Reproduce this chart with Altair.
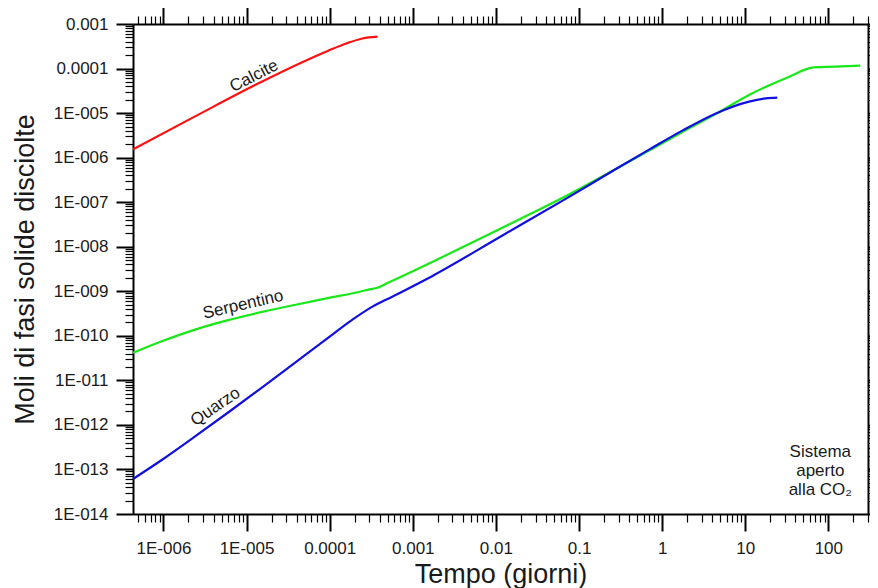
import altair as alt
import pandas as pd

# ---- data (tempo in giorni, moli) ----
series_names = ["Calcite", "Serpentino", "Quarzo"]
series_colors = ["#ff1010", "#18e818", "#1010e0"]

calcite_t = [4.3e-7, 2.40e-6, 1.50e-5, 9.46e-5, 1.64e-4, 2.48e-4, 3.76e-4]
calcite_y = [1.53e-6, 8.43e-6, 5.01e-5, 2.48e-4, 3.75e-4, 4.73e-4, 5.19e-4]

serp_t = [4.3e-7, 9.54e-7, 2.40e-6, 6.00e-6, 1.50e-5, 3.77e-5, 9.46e-5, 2.37e-4, 3.01e-4,
          3.76e-4, 4.96e-4, 1.79e-3, 1.13e-2, 7.08e-2, 0.281, 0.705, 1.77, 4.44, 11.1,
          33.4, 66.7, 121, 242]
serp_y = [4.14e-11, 7.53e-11, 1.38e-10, 2.25e-10, 3.40e-10, 4.93e-10, 7.00e-10, 9.91e-10,
          1.10e-9, 1.20e-9, 1.53e-9, 4.73e-9, 2.53e-8, 1.39e-7, 5.61e-7, 1.46e-6, 3.79e-6,
          9.59e-6, 2.56e-5, 6.49e-5, 1.06e-4, 1.10e-4, 1.16e-4]

quarz_t = [4.3e-7, 9.54e-7, 2.40e-6, 6.00e-6, 1.50e-5, 3.77e-5, 9.46e-5, 1.88e-4, 3.27e-4,
           5.67e-4, 1.79e-3, 1.13e-2, 7.08e-2, 0.281, 0.705, 1.77, 4.44, 11.1, 17.6, 24.3]
quarz_y = [6.12e-14, 1.63e-13, 5.50e-13, 1.90e-12, 6.71e-12, 2.44e-11, 8.87e-11, 2.31e-10,
           4.52e-10, 7.57e-10, 2.30e-9, 1.68e-8, 1.22e-7, 5.61e-7, 1.53e-6, 4.09e-6, 9.84e-6,
           1.81e-5, 2.14e-5, 2.23e-5]

# curve labels (text, t, y, angle)
label_text = ["Calcite", "Serpentino", "Quarzo"]
label_t = [1.23e-5, 9.08e-6, 4.23e-6]
label_y = [6.8e-5, 5.0e-10, 2.55e-12]
label_angle = [333, 347, 326]

note_text = "Sistema\naperto\nalla CO₂"
note_t = [80.0]
note_y = [1.86e-13]

# axes
x_domain = [4.3e-7, 300]
y_domain = [1e-14, 1e-3]
x_major_exp = [-6, -5, -4, -3, -2, -1, 0, 1, 2]
x_major_lab = ["1E-006", "1E-005", "0.0001", "0.001", "0.01", "0.1", "1", "10", "100"]
y_major_exp = [-3, -4, -5, -6, -7, -8, -9, -10, -11, -12, -13, -14]
y_major_lab = ["0.001", "0.0001", "1E-005", "1E-006", "1E-007", "1E-008", "1E-009",
               "1E-010", "1E-011", "1E-012", "1E-013", "1E-014"]


def log_ticks(lo, hi):
    vals = []
    for e in range(-16, 4):
        for m in range(1, 10):
            v = float(f"{m}e{e}")
            if lo * 0.9999 <= v <= hi * 1.0001:
                vals.append(v)
    return vals


x_ticks = log_ticks(*x_domain)
y_ticks = log_ticks(*y_domain)

LOG10 = "(log(datum.value)/LN10)"
MAJOR = f"abs({LOG10} - round({LOG10})) < 0.001"


def label_expr(exps, labs):
    s = f"!({MAJOR}) ? '' : "
    for e, l in zip(exps, labs):
        s += f"round({LOG10}) == {e} ? '{l}' : "
    return s + "''"


FONT = "Liberation Sans"
common = dict(
    grid=False,
    domainColor="#000000",
    domainWidth=2,
    tickColor="#000000",
    tickSize={"condition": {"test": MAJOR, "value": 17}, "value": 8},
    tickWidth={"condition": {"test": MAJOR, "value": 2}, "value": 1.2},
    labelFont=FONT,
    labelFontSize=17,
    labelColor="#1a1a1a",
    labelOverlap=False,
    labelFlush=False,
    titleFont=FONT,
    titleFontSize=27,
    titleFontWeight="normal",
    titleColor="#1a1a1a",
)

x_bottom = alt.Axis(orient="bottom", values=x_ticks,
                    labelExpr=label_expr(x_major_exp, x_major_lab),
                    labelPadding=9, title="Tempo (giorni)",
                    titleY=68, titleBaseline="alphabetic", titleAnchor="middle", **common)
y_left = alt.Axis(orient="left", values=y_ticks,
                  labelExpr=label_expr(y_major_exp, y_major_lab),
                  labelPadding=8, title="Moli di fasi solide disciolte",
                  titleX=-100, titleBaseline="alphabetic", titleAngle=270,
                  titleAnchor="middle", **common)
x_top = alt.Axis(orient="top", values=x_ticks, labels=False, title=None, **common)
y_right = alt.Axis(orient="right", values=y_ticks, labels=False, title=None, **common)

xs = alt.Scale(type="log", domain=x_domain, nice=False)
ys = alt.Scale(type="log", domain=y_domain, nice=False)

rows = []
for name, ts, vs in [("Calcite", calcite_t, calcite_y),
                     ("Serpentino", serp_t, serp_y),
                     ("Quarzo", quarz_t, quarz_y)]:
    for i, (t, v) in enumerate(zip(ts, vs)):
        rows.append({"serie": name, "t": t, "y": v, "ord": i})
df = pd.DataFrame(rows)

lab_df = pd.DataFrame({"label": label_text, "t": label_t, "y": label_y, "angle": label_angle})
note_df = pd.DataFrame({"label": [note_text], "t": note_t, "y": note_y})

lines = alt.Chart(df).mark_line(strokeWidth=2.2, interpolate="monotone").encode(
    x=alt.X("t:Q", scale=xs, axis=x_bottom),
    y=alt.Y("y:Q", scale=ys, axis=y_left),
    color=alt.Color("serie:N", scale=alt.Scale(domain=series_names, range=series_colors), legend=None),
    order="ord:Q",
)

mirror = alt.Chart(df).mark_point(opacity=0).encode(
    x=alt.X("t:Q", scale=xs, axis=x_top),
    y=alt.Y("y:Q", scale=ys, axis=y_right),
)

labels = alt.Chart(lab_df).mark_text(font=FONT, fontSize=17, color="#1a1a1a",
                                     align="center", baseline="middle").encode(
    x=alt.X("t:Q", scale=xs, axis=None),
    y=alt.Y("y:Q", scale=ys, axis=None),
    text="label:N",
    angle=alt.Angle("angle:Q", scale=None),
)

note = alt.Chart(note_df).mark_text(font=FONT, fontSize=17, color="#1a1a1a",
                                    align="center", baseline="alphabetic",
                                    lineBreak="\n", lineHeight=19).encode(
    x=alt.X("t:Q", scale=xs, axis=None),
    y=alt.Y("y:Q", scale=ys, axis=None),
    text="label:N",
)

chart = alt.layer(lines, mirror, labels, note).resolve_axis(
    x="independent", y="independent"
).properties(
    width=735,
    height=490,
    autosize=alt.AutoSizeParams(type="none"),
    padding={"left": 125, "top": 16, "right": 2, "bottom": 80},
    background="white",
).configure_view(stroke=None)

chart.save("out.html", embed_options={"renderer": "svg", "actions": False})
